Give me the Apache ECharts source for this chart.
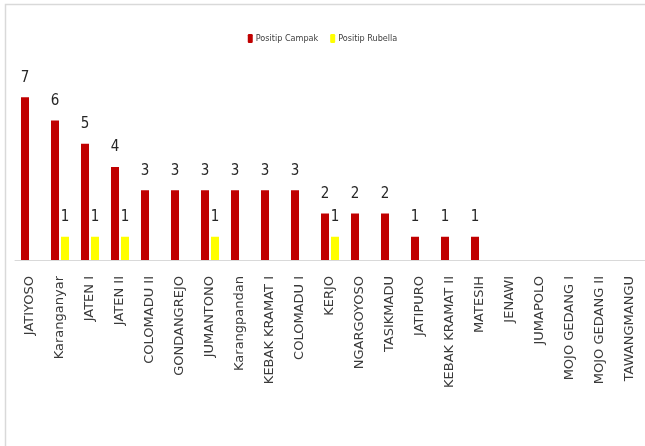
<!DOCTYPE html>
<html><head><meta charset="utf-8">
<script src="https://cdn.jsdelivr.net/npm/echarts@6/dist/echarts.min.js"></script>
<style>html,body{margin:0;padding:0;background:#fff}#c{width:645px;height:446px}</style>
</head><body><div id="c"></div>
<script>
const categories = ['JATIYOSO','Karanganyar','JATEN I','JATEN II','COLOMADU II','GONDANGREJO','JUMANTONO','Karangpandan','KEBAK KRAMAT I','COLOMADU I','KERJO','NGARGOYOSO','TASIKMADU','JATIPURO','KEBAK KRAMAT II','MATESIH','JENAWI','JUMAPOLO','MOJO GEDANG I','MOJO GEDANG II','TAWANGMANGU'];
const campak = [7,6,5,4,3,3,3,3,3,3,2,2,2,1,1,1,null,null,null,null,null];
const rubella = [null,1,1,1,null,null,1,null,null,null,1,null,null,null,null,null,null,null,null,null,null];
const seriesNames = ['Positip Campak','Positip Rubella'];

const narrow = "'DejaVu Sans Condensed', 'Liberation Sans Narrow', 'Roboto Condensed', 'Noto Sans', sans-serif";
const chart = echarts.init(document.getElementById('c'), null, {renderer:'canvas'});
const numLabel = {show:true, position:'top', distance:12, fontFamily:narrow, fontSize:15, color:'#262626'};
chart.setOption({
  animation:false,
  graphic:[{type:'rect', shape:{x:5.5,y:4.5,width:700,height:500}, style:{fill:'none', stroke:'#d9d9d9', lineWidth:1.5}, silent:true}],
  legend:{top:29, left:'center', itemWidth:5, itemHeight:9, itemGap:12,
    textStyle:{fontFamily:narrow, fontSize:9, color:'#404040', padding:[0,0,0,-2]},
    data:seriesNames},
  grid:{left:15, right:0, top:74, height:186},
  xAxis:{type:'category', data:categories,
    axisLine:{lineStyle:{color:'#d9d9d9', width:1}}, axisTick:{show:false},
    axisLabel:{rotate:90, interval:0, margin:16, fontFamily:'DejaVu Sans', fontSize:13, color:'#3a3a3a'}},
  yAxis:{type:'value', min:0, max:8, show:false, splitLine:{show:false}},
  series:[
    {name:seriesNames[0], type:'bar', data:campak, barWidth:8, barGap:'25%', itemStyle:{color:'#c00000'}, label:numLabel},
    {name:seriesNames[1], type:'bar', data:rubella, barWidth:8, barGap:'25%', itemStyle:{color:'#ffff00'}, label:numLabel}
  ]
});
</script></body></html>
